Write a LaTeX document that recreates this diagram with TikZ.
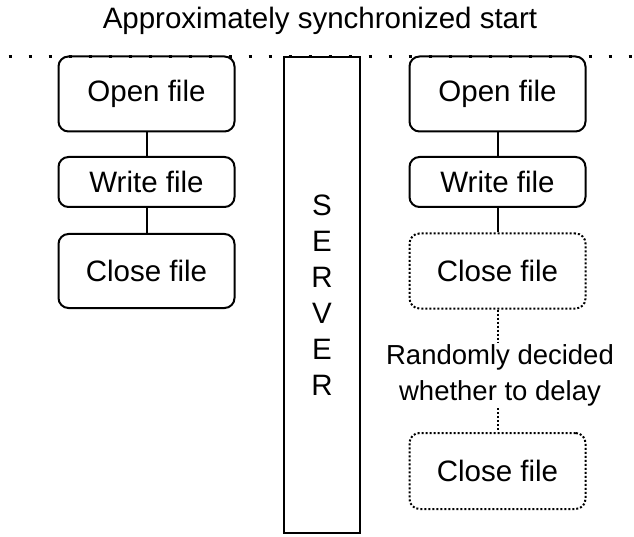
\documentclass[tikz,border=0pt]{standalone}
\usepackage{fontspec}
\setmainfont{Liberation Sans}
\begin{document}
\begin{tikzpicture}[x=1pt,y=-1pt,
  txt/.style={font=\fontsize{29.5}{36}\selectfont},
  smalltxt/.style={font=\fontsize{27.5}{36}\selectfont},
  procbox/.style={txt,draw,line width=2pt,rounded corners=10pt,minimum width=176pt,inner sep=0pt,fill=white},
  dotbox/.style={procbox,dash pattern=on 2pt off 2pt},
  link/.style={line width=2pt},
  dotlink/.style={line width=2pt,dash pattern=on 2pt off 2pt}]
\useasboundingbox (0,0) rectangle (634,537);
% title
\node[txt] (title) at (320,21) {Approximately synchronized start};
% left column
\node[procbox,minimum height=75pt] (openL) at (146.5,94) {Open file};
\node[procbox,minimum height=50pt] (writeL) at (146.5,182) {Write file};
\node[procbox,minimum height=74pt] (closeL) at (146.5,271) {Close file};
\draw[link] (openL) -- (writeL);
\draw[link] (writeL) -- (closeL);
% server
\node[txt,draw,line width=2pt,minimum width=76pt,minimum height=476pt,align=center,inner sep=0pt] (server) at (322,295) {S\\E\\R\\V\\E\\R};
% right column
\node[procbox,minimum height=75pt] (openR) at (497.5,94) {Open file};
\node[procbox,minimum height=50pt] (writeR) at (497.5,182) {Write file};
\node[dotbox,minimum height=75pt] (closeR) at (497.5,271) {Close file};
\node[smalltxt,align=center,inner sep=2pt] (rand) at (500,375) {Randomly decided\\whether to delay};
\node[dotbox,minimum height=76pt] (closeD) at (497.5,471) {Close file};
\draw[link] (openR) -- (writeR);
\draw[link] (writeR) -- (closeR);
\draw[dotlink] (closeR.south) -- (closeR.south |- rand.north);
\draw[dotlink] (closeD.north |- rand.south) -- (closeD.north);
% start line
\coordinate (lineA) at (8.5,56.5);
\coordinate (lineB) at (634,56.5);
\draw[line width=3pt,dash pattern=on 3pt off 17pt] (lineA) -- (lineB);
\end{tikzpicture}
\end{document}
